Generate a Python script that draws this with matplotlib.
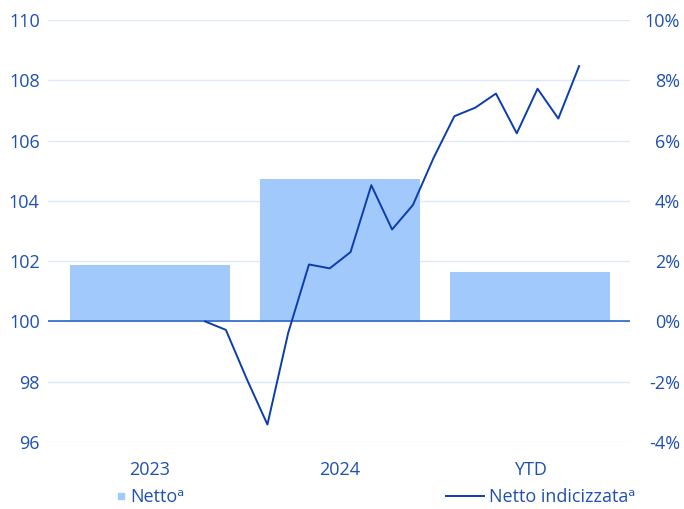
import matplotlib
matplotlib.use('Agg')
import matplotlib.pyplot as plt
from matplotlib.lines import Line2D
from matplotlib.ticker import FuncFormatter

plt.rcParams['font.family'] = ['Open Sans', 'DejaVu Sans']

# data
categories = ['2023', '2024', 'YTD']
netto_pct = [1.86, 4.71, 1.63]          # bars, right axis (%)
month_idx = list(range(19))
netto_index = [100.0, 99.72, 98.1, 96.58, 99.62, 101.89, 101.76, 102.30,
               104.52, 103.05, 103.86, 105.43, 106.81, 107.09, 107.56,
               106.24, 107.72, 106.73, 108.47]   # line, left axis

text_col = '#1f4fb4'
line_col = '#0b3dad'
bar_col = '#a2c9fb'
grid_col = '#dde9fa'
zero_col = '#3d6fc9'
fs = 13

fig = plt.figure(figsize=(6.84, 5.09), dpi=100)
pos = [48/684, 1-442/509, (630-48)/684, (442-20)/509]

# bars axis (right labels)
ax = fig.add_axes(pos)
ax.bar(range(len(categories)), netto_pct, width=0.842, color=bar_col, zorder=2)
ax.set_xlim(-0.537, 2.526)
ax.set_ylim(-4, 10)
ax.set_yticks(range(-4, 11, 2))
ax.yaxis.set_major_formatter(FuncFormatter(lambda v, p: f'{v:.0f}%'))
ax.yaxis.tick_right()
ax.set_xticks(range(len(categories)))
ax.set_xticklabels(categories)
ax.tick_params(axis='x', length=0, pad=14, labelsize=fs, labelcolor=text_col)
ax.tick_params(axis='y', length=0, pad=36, labelsize=fs, labelcolor=text_col)
for lab in ax.get_yticklabels():
    lab.set_horizontalalignment('right')
ax.grid(axis='y', color=grid_col, linewidth=1)
ax.set_axisbelow(True)
ax.axhline(0, color=zero_col, linewidth=1.3, zorder=3)
for s in ax.spines.values():
    s.set_visible(False)

# line axis (left labels)
ax2 = fig.add_axes(pos)
ax2.patch.set_visible(False)
ax2.plot(month_idx, netto_index, color=line_col, linewidth=1.4)
ax2.set_xlim(-7.56, 20.45)
ax2.set_ylim(96, 110)
ax2.set_yticks(range(96, 111, 2))
ax2.set_xticks([])
ax2.tick_params(axis='y', length=0, pad=6, labelsize=fs, labelcolor=text_col)
for s in ax2.spines.values():
    s.set_visible(False)

# legend
h_bar = Line2D([], [], marker='s', linestyle='none', color=bar_col, markersize=5)
h_line = Line2D([], [], color=line_col, linewidth=1.4)
fig.legend(handles=[h_bar], labels=['Nettoᵃ'], loc='center left',
           bbox_to_anchor=(100/684, 1-497/509), frameon=False,
           handlelength=0.5, handletextpad=0.25, fontsize=fs, labelcolor=text_col)
fig.legend(handles=[h_line], labels=['Netto indicizzataᵃ'], loc='center right',
           bbox_to_anchor=(652/684, 1-497/509), frameon=False,
           handlelength=2.1, handletextpad=0.3, fontsize=fs, labelcolor=text_col)

fig.savefig('out.png', dpi=100)
